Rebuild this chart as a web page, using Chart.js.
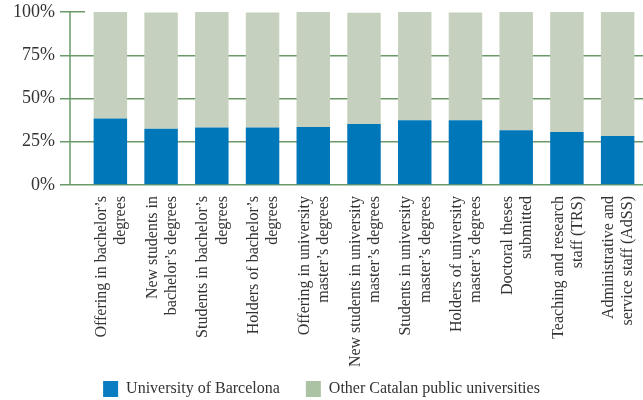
<!DOCTYPE html>
<html>
<head>
<meta charset="utf-8">
<script src="https://cdn.jsdelivr.net/npm/chart.js@4"></script>
<style>
  html, body { margin: 0; padding: 0; background: #fff; overflow: hidden; }
  #wrap { width: 643px; height: 407px; }
</style>
</head>
<body>
<div id="wrap"><canvas id="chart"></canvas></div>
<script>
// categories (two lines each, as in the original)
const categories = [
    ['Offering in bachelor’s', 'degrees'],
    ['New students in', 'bachelor’s degrees'],
    ['Students in bachelor’s', 'degrees'],
    ['Holders of bachelor’s', 'degrees'],
    ['Offering in university', 'master’s degrees'],
    ['New students in university', 'master’s degrees'],
    ['Students in university', 'master’s degrees'],
    ['Holders of university', 'master’s degrees'],
    ['Doctoral theses', 'submitted'],
    ['Teaching and research', 'staff (TRS)'],
    ['Administrative and', 'service staff (AdSS)']
];

// share in %
const ubValues    = [38.5, 32.5, 33.3, 33.3, 33.5, 35.2, 37.5, 37.5, 31.7, 30.6, 28.3];
const otherValues = [61.5, 67.2, 66.7, 66.4, 66.5, 64.4, 62.5, 62.2, 68.3, 69.4, 71.7];

const yTicks = [0, 25, 50, 75, 100];

const barColors = ['#0077b8', '#c5d1be'];
const legendColors = ['#0a7dc2', '#abc2a3'];
const gridGreen = '#6a9a68';
const textColor = '#333333';
const serif = '"Liberation Serif", "DejaVu Serif", serif';
const labelSize = 16;

const tweaks = {
    id: 'tweaks',
    beforeDraw(chart) {
        const xs = chart.scales.x;
        // long labels run a little past the axis box, don't clip them
        xs._computeLabelArea = () => null;
        // center the two-line rotated labels on their bars
        xs.getLabelItems(chart.chartArea).forEach(item => { item.textOffset = 1; });
    },
    beforeDatasetsDraw(chart) {
        // y axis line sits a bit left of the plot area, like the original
        const { ctx, chartArea } = chart;
        const y = chart.scales.y;
        ctx.save();
        ctx.strokeStyle = gridGreen;
        ctx.lineWidth = 1.5;
        ctx.beginPath();
        ctx.moveTo(chartArea.left - 15, y.getPixelForValue(100));
        ctx.lineTo(chartArea.left - 15, y.getPixelForValue(0));
        ctx.stroke();
        ctx.restore();
    }
};

new Chart(document.getElementById('chart'), {
    type: 'bar',
    data: {
        labels: categories,
        datasets: [
            {
                label: 'University of Barcelona',
                data: ubValues,
                backgroundColor: barColors[0],
                categoryPercentage: 1,
                barPercentage: 0.66
            },
            {
                label: 'Other Catalan public universities',
                data: otherValues,
                backgroundColor: barColors[1],
                categoryPercentage: 1,
                barPercentage: 0.66
            }
        ]
    },
    options: {
        responsive: true,
        maintainAspectRatio: false,
        animation: false,
        layout: { padding: { top: 12, right: 0, bottom: 0, left: 0 } },
        plugins: {
            legend: {
                position: 'bottom',
                labels: {
                    boxWidth: 15,
                    boxHeight: 16,
                    padding: 26,
                    color: textColor,
                    font: { family: serif, size: 16 },
                    generateLabels(chart) {
                        const items = Chart.defaults.plugins.legend.labels.generateLabels(chart);
                        items.forEach((it, i) => {
                            it.fillStyle = legendColors[i];
                            it.lineWidth = 0;
                        });
                        return items;
                    }
                }
            },
            tooltip: { enabled: false }
        },
        scales: {
            x: {
                stacked: true,
                grid: { display: false, drawTicks: false },
                border: { display: false },
                ticks: {
                    autoSkip: false,
                    minRotation: 90,
                    maxRotation: 90,
                    padding: 11,
                    color: textColor,
                    font: { family: serif, size: labelSize, lineHeight: 1.2 }
                },
                afterFit(scale) {
                    scale.height = 170;
                    scale.paddingLeft = 0;
                    scale.paddingRight = 0;
                }
            },
            y: {
                stacked: true,
                min: 0,
                max: 100,
                afterBuildTicks(scale) { scale.ticks = yTicks.map(v => ({ value: v })); },
                grid: {
                    color: c => (c.tick && c.tick.value === 100) ? 'rgba(0,0,0,0)' : gridGreen,
                    tickColor: gridGreen,
                    lineWidth: 1.5,
                    tickLength: 25
                },
                border: { display: false },
                ticks: {
                    padding: 5,
                    color: textColor,
                    font: { family: serif, size: 18 },
                    callback: v => v + '%'
                },
                afterFit(scale) {
                    scale.width = 85;
                    scale.paddingTop = 0;
                    scale.paddingBottom = 0;
                }
            }
        }
    },
    plugins: [tweaks]
});
</script>
</body>
</html>
